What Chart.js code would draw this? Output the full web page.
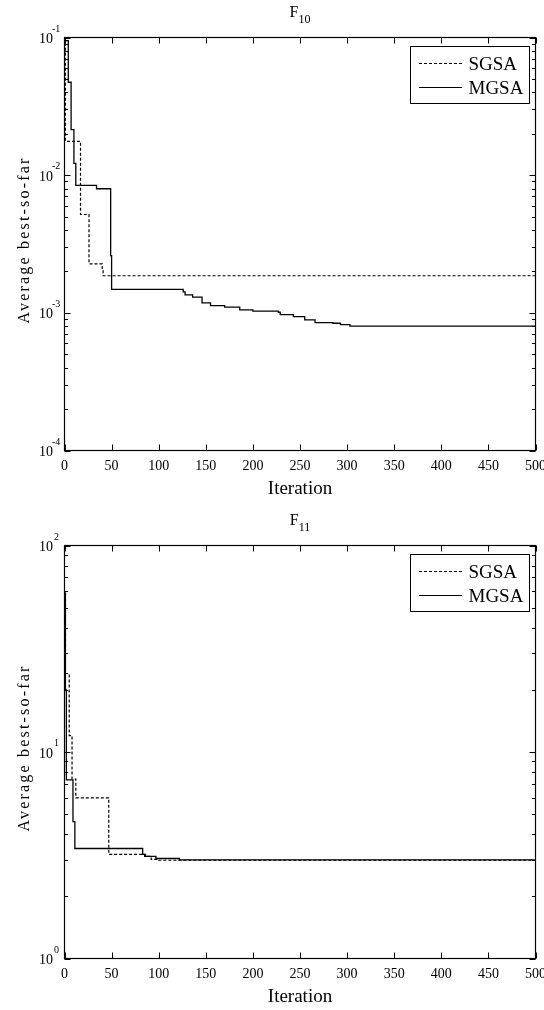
<!DOCTYPE html>
<html><head><meta charset="utf-8">
<script src="https://cdn.jsdelivr.net/npm/chart.js@4.4.1/dist/chart.umd.min.js"></script>
<style>html,body{margin:0;padding:0;background:#fff;} canvas{display:block;}</style>
</head><body>
<canvas id="c1" width="544" height="505"></canvas>
<canvas id="c2" width="544" height="505"></canvas>
<script>
// ---- data ----
const seriesLabels = ['SGSA', 'MGSA'];
const xTickValues = [0, 50, 100, 150, 200, 250, 300, 350, 400, 450, 500];
const xAxisTitle = 'Iteration';
const yAxisTitle = 'Average best-so-far';

// F10
const f10Title = ['F', '10'];
const f10YExponents = [-4, -3, -2, -1];
const f10SgsaIter = [0, 1, 17, 26, 40, 41, 500];
const f10SgsaVal  = [0.09, 0.0176, 0.00518, 0.00227, 0.00207, 0.00186, 0.00186];
const f10MgsaIter = [0, 4, 7, 10, 12, 34, 49, 50, 126, 128, 136, 146, 155, 170, 186, 200, 227, 229, 243, 255, 266, 285, 293, 303, 500];
const f10MgsaVal  = [0.095, 0.0473, 0.0214, 0.0122, 0.00842, 0.00797, 0.0026, 0.00148, 0.00142, 0.00135, 0.0013, 0.00118, 0.00113, 0.0011, 0.00105, 0.00103, 0.00101, 0.00097, 0.00094, 0.00089, 0.00085, 0.00084, 0.00082, 0.0008, 0.0008];

// F11
const f11Title = ['F', '11'];
const f11YExponents = [0, 1, 2];
const f11SgsaIter = [0, 1, 5, 8, 12, 47, 85, 92, 100, 500];
const f11SgsaVal  = [55, 24, 12, 7.4, 6.0, 3.19, 3.12, 3.02, 2.99, 2.99];
const f11MgsaIter = [0, 1, 2, 9, 11, 83, 86, 97, 122, 500];
const f11MgsaVal  = [59, 20, 7.33, 4.6, 3.41, 3.19, 3.12, 3.05, 3.0, 3.0];

const FONT = '"Liberation Serif", "Times New Roman", serif';

function pts(xs, ys) { return xs.map((x, i) => ({ x: x, y: ys[i] })); }

function makeFrame(cfg) {
  return {
    id: 'frame_' + cfg.id,
    afterDraw(chart) {
      const ctx = chart.ctx, a = chart.chartArea;
      const xs = chart.scales.x, ys = chart.scales.y;
      ctx.save();
      ctx.strokeStyle = '#000'; ctx.fillStyle = '#000'; ctx.lineWidth = 1.2;
      // frame
      ctx.strokeRect(a.left, a.top, a.right - a.left, a.bottom - a.top);
      // x ticks
      ctx.lineWidth = 1;
      ctx.beginPath();
      xTickValues.forEach(v => {
        const px = Math.round(xs.getPixelForValue(v)) + 0.5;
        ctx.moveTo(px, a.bottom); ctx.lineTo(px, a.bottom - 6);
        ctx.moveTo(px, a.top); ctx.lineTo(px, a.top + 6);
      });
      // y ticks (major + minor)
      const ex = cfg.exps;
      for (let i = 0; i < ex.length; i++) {
        const major = Math.pow(10, ex[i]);
        const py = Math.round(ys.getPixelForValue(major)) + 0.5;
        ctx.moveTo(a.left, py); ctx.lineTo(a.left + 6, py);
        ctx.moveTo(a.right, py); ctx.lineTo(a.right - 6, py);
        if (i < ex.length - 1) {
          for (let m = 2; m <= 9; m++) {
            const my = Math.round(ys.getPixelForValue(m * major)) + 0.5;
            ctx.moveTo(a.left, my); ctx.lineTo(a.left + 3.5, my);
            ctx.moveTo(a.right, my); ctx.lineTo(a.right - 3.5, my);
          }
        }
      }
      ctx.stroke();
      // x tick labels
      ctx.font = '14px ' + FONT;
      ctx.textAlign = 'center'; ctx.textBaseline = 'alphabetic';
      xTickValues.forEach(v => {
        ctx.fillText(String(v), xs.getPixelForValue(v), a.bottom + 19);
      });
      // y tick labels 10^n
      ex.forEach(e => {
        const py = ys.getPixelForValue(Math.pow(10, e));
        ctx.font = '14px ' + FONT;
        ctx.textAlign = 'right';
        ctx.fillText('10', 53, py + 5.5);
        ctx.font = '10px ' + FONT;
        ctx.textAlign = 'left';
        ctx.fillText(String(e), e < 0 ? 52 : 54, py - 6);
      });
      // x axis title
      ctx.font = '19px ' + FONT;
      ctx.textAlign = 'center';
      ctx.fillText(xAxisTitle, (a.left + a.right) / 2, a.bottom + 43);
      // y axis title
      ctx.save();
      ctx.translate(29, (a.top + a.bottom) / 2 - 4);
      ctx.rotate(-Math.PI / 2);
      ctx.font = '16px ' + FONT;
      ctx.letterSpacing = '2.2px';
      ctx.textAlign = 'center';
      ctx.fillText(yAxisTitle, 0, 0);
      ctx.restore();
      // title with subscript
      ctx.font = '16px ' + FONT;
      const wF = ctx.measureText(cfg.title[0]).width;
      ctx.font = '12px ' + FONT;
      const wS = ctx.measureText(cfg.title[1]).width;
      const cx = (a.left + a.right) / 2;
      const x0 = cx - (wF + wS) / 2;
      ctx.textAlign = 'left';
      ctx.font = '16px ' + FONT;
      ctx.fillText(cfg.title[0], x0, a.top - 20.5);
      ctx.font = '12px ' + FONT;
      ctx.fillText(cfg.title[1], x0 + wF, a.top - 15);
      // legend
      const lx = a.right - 125.5, ly = a.top + 8;
      ctx.lineWidth = 1;
      ctx.strokeRect(Math.round(lx) + 0.5, Math.round(ly) + 0.5, 119, 57);
      const ds = chart.data.datasets;
      [17.5, 41.5].forEach((dy, i) => {
        const yy = Math.round(ly + dy) + 0.5;
        ctx.beginPath();
        ctx.lineWidth = 1.2;
        ctx.setLineDash(ds[i].borderDash || []);
        ctx.moveTo(lx + 9, yy); ctx.lineTo(lx + 52, yy);
        ctx.stroke();
        ctx.setLineDash([]);
        ctx.font = '19px ' + FONT;
        ctx.textAlign = 'left';
        ctx.fillText(ds[i].label, lx + 58.5, yy + 6.5);
      });
      ctx.restore();
    }
  };
}

function build(id, canvasId, title, exps, ymin, ymax, sI, sV, mI, mV, pad) {
  const frame = makeFrame({ id: id, title: title, exps: exps });
  return new Chart(document.getElementById(canvasId), {
    type: 'line',
    data: {
      datasets: [
        { label: seriesLabels[0], data: pts(sI, sV), borderColor: '#000', borderWidth: 1.2,
          borderDash: [3, 2], pointRadius: 0, stepped: 'before', fill: false },
        { label: seriesLabels[1], data: pts(mI, mV), borderColor: '#000', borderWidth: 1.3,
          pointRadius: 0, stepped: 'before', fill: false }
      ]
    },
    options: {
      responsive: false, animation: false, devicePixelRatio: 1,
      layout: { padding: pad },
      plugins: { legend: { display: false }, tooltip: { enabled: false }, title: { display: false } },
      scales: {
        x: { type: 'linear', min: 0, max: 500, display: false },
        y: { type: 'logarithmic', min: ymin, max: ymax, display: false }
      }
    },
    plugins: [frame]
  });
}

build('f10', 'c1', f10Title, f10YExponents, 1e-4, 1e-1, f10SgsaIter, f10SgsaVal, f10MgsaIter, f10MgsaVal,
  { left: 64.5, right: 8.5, top: 37.5, bottom: 54.5 });
build('f11', 'c2', f11Title, f11YExponents, 1, 100, f11SgsaIter, f11SgsaVal, f11MgsaIter, f11MgsaVal,
  { left: 64.5, right: 8.5, top: 40.5, bottom: 51.5 });
</script>
</body></html>
